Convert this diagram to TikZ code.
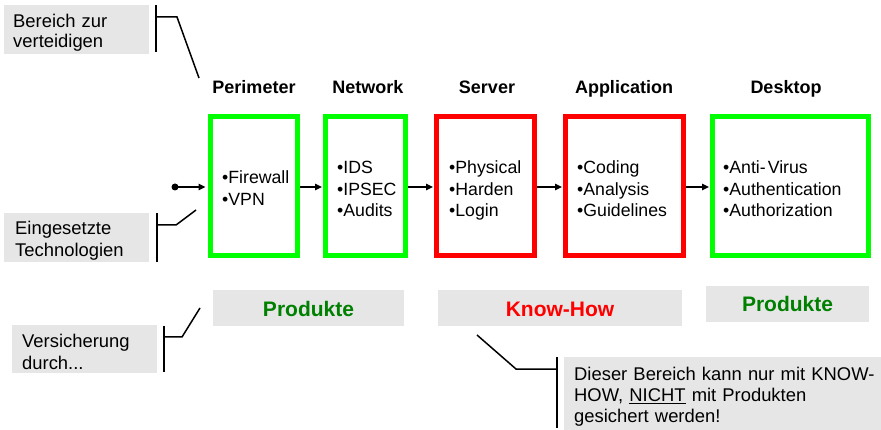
\documentclass[tikz,border=0pt]{standalone}
\usepackage{fontspec}
\setmainfont{Liberation Sans}
\usetikzlibrary{arrows.meta}
\definecolor{gfill}{HTML}{E6E6E6}
\definecolor{bgreen}{HTML}{00FF00}
\definecolor{bred}{HTML}{FF0000}
\definecolor{dgreen}{HTML}{008000}
\begin{document}
\begin{tikzpicture}[x=1pt,y=-1pt,
  txt/.style={font=\fontsize{17.7}{21.5}\selectfont, anchor=base west, inner sep=0pt, text width=#1, align=left},
  ctxt/.style={font=\fontsize{18.4}{21.5}\selectfont, anchor=base west, inner sep=0pt, text width=#1, align=left},
  hdr/.style={font=\bfseries\fontsize{18}{21}\selectfont, anchor=base, inner sep=0pt},
  lbl/.style={font=\bfseries\fontsize{21}{24}\selectfont, anchor=base, inner sep=0pt},
  greenbox/.style={draw=bgreen, line width=5pt, minimum width=#1, minimum height=139pt, inner sep=0pt},
  redbox/.style={draw=bred, line width=5pt, minimum width=#1, minimum height=139pt, inner sep=0pt},
  graybox/.style={fill=gfill, inner sep=0pt, anchor=north west},
  flow/.style={line width=1.5pt, -{Triangle[length=7pt,width=6.5pt]}},
  brk/.style={line width=1.5pt}
]
\useasboundingbox (0,0) rectangle (881,430);

% callout gray boxes
\node[graybox, minimum width=145pt, minimum height=49pt] (callA) at (4,5) {};
\node[graybox, minimum width=145pt, minimum height=49pt] (callB) at (4,213) {};
\node[graybox, minimum width=145pt, minimum height=48pt] (callC) at (12,325) {};
\node[graybox, minimum width=317pt, minimum height=73pt] (callD) at (564,357) {};

\node[ctxt=140pt] (tA) at (13,28) {Bereich zur\\[-1.5pt]verteidigen};
\node[ctxt=140pt] (tB) at (15,235) {Eingesetzte\\Technologien};
\node[ctxt=140pt] (tC) at (22,348) {Versicherung\\durch...};
\node[ctxt=315pt] (tD) at (574,380) {Dieser Bereich kann nur mit KNOW-\\HOW, \underline{NICHT} mit Produkten\\gesichert werden!};

% bracket connectors
\coordinate (a1) at (156,5);  \coordinate (a2) at (156,52);
\coordinate (a3) at (156,17); \coordinate (a4) at (177,17); \coordinate (a5) at (199,78);
\draw[brk] (a1) -- (a2);
\draw[brk] (a3) -- (a4) -- (a5);

\coordinate (b1) at (157,213); \coordinate (b2) at (157,262);
\coordinate (b3) at (157,225); \coordinate (b4) at (176,225); \coordinate (b5) at (196,210);
\draw[brk] (b1) -- (b2);
\draw[brk] (b3) -- (b4) -- (b5);

\coordinate (c1) at (164,326); \coordinate (c2) at (164,372);
\coordinate (c3) at (164,337); \coordinate (c4) at (182,337); \coordinate (c5) at (200,308);
\draw[brk] (c1) -- (c2);
\draw[brk] (c3) -- (c4) -- (c5);

\coordinate (d1) at (557,357); \coordinate (d2) at (557,428);
\coordinate (d3) at (557,369); \coordinate (d4) at (516,369); \coordinate (d5) at (477,335);
\draw[brk] (d1) -- (d2);
\draw[brk] (d3) -- (d4) -- (d5);

% headers
\node[hdr] (hPer) at (254,94) {Perimeter};
\node[hdr] (hNet) at (368,94) {Network};
\node[hdr] (hSrv) at (487,94) {Server};
\node[hdr] (hApp) at (624,94) {Application};
\node[hdr] (hDsk) at (786,94) {Desktop};

% main boxes
\node[greenbox=87pt] (per) at (254,186) {};
\node[greenbox=80pt] (net) at (365.5,186) {};
\node[redbox=98pt]   (srv) at (485.5,186) {};
\node[redbox=118pt]  (app) at (624.5,186) {};
\node[greenbox=156pt] (dsk) at (790.5,186) {};

% box contents
\node[txt=80pt]  (lPer) at (222,184) {•Firewall\\•VPN};
\node[txt=70pt]  (lNet) at (337,174) {•IDS\\•IPSEC\\•Audits};
\node[txt=90pt]  (lSrv) at (449,174) {•Physical\\•Harden\\•Login};
\node[txt=105pt] (lApp) at (577,174) {•Coding\\•Analysis\\•Guidelines};
\node[txt=140pt] (lDsk) at (723,174) {•Anti-\kern2pt Virus\\•Authentication\\•Authorization};

% flow arrows
\coordinate (start) at (175,187);
\fill (start) circle (3.5pt);
\draw[flow, shorten >=2.5pt] (start) -- (start -| per.west);
\draw[flow, shorten >=1pt] ([yshift=-1pt]per.east) -- ([yshift=-1pt]net.west);
\draw[flow, shorten >=1pt] ([yshift=-1pt]net.east) -- ([yshift=-1pt]srv.west);
\draw[flow, shorten >=1pt] ([yshift=-1pt]srv.east) -- ([yshift=-1pt]app.west);
\draw[flow, shorten >=1pt] ([yshift=-1pt]app.east) -- ([yshift=-1pt]dsk.west);

% bottom labels
\node[graybox, minimum width=191pt, minimum height=36pt] (prod1) at (213,290) {};
\node[graybox, minimum width=244pt, minimum height=36pt] (know) at (438,290) {};
\node[graybox, minimum width=163pt, minimum height=36pt] (prod2) at (706,286) {};
\node[lbl, text=dgreen] (tP1) at (308.5,317) {Produkte};
\node[lbl, text=bred]   (tK)  at (560,317) {Know-How};
\node[lbl, text=dgreen] (tP2) at (787.5,312) {Produkte};
\end{tikzpicture}
\end{document}
